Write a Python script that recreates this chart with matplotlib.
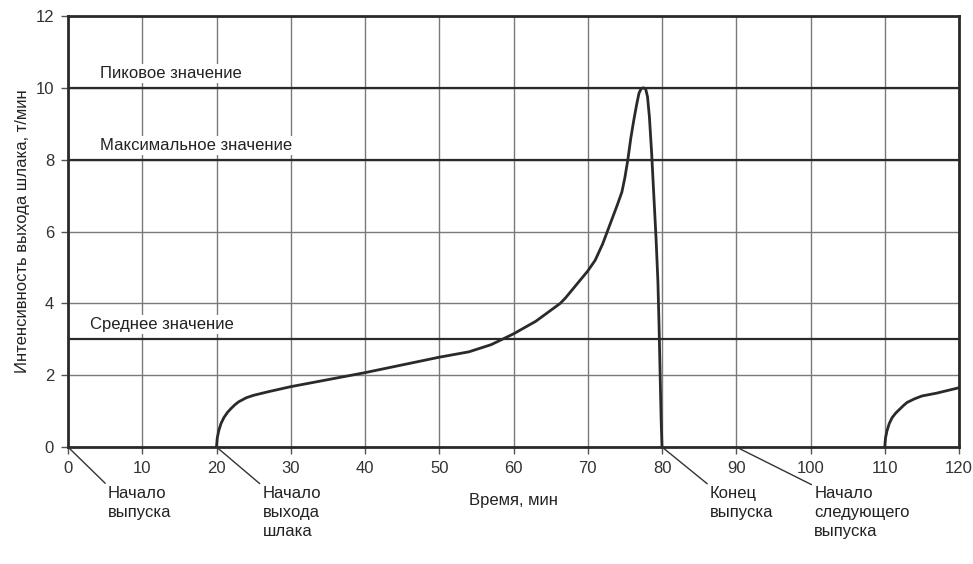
import numpy as np
import matplotlib
matplotlib.use("Agg")
import matplotlib.pyplot as plt

plt.rcParams['font.family'] = ['Liberation Sans', 'DejaVu Sans']

# первый выпуск шлака
x1 = [20, 20.1, 20.3, 20.6, 21, 21.5, 22, 22.5, 23, 24, 25, 27, 30, 40, 50, 54, 57, 60, 63,
      66.3, 67, 68, 69, 70, 71, 72, 73, 74, 74.6, 75, 75.4, 75.8, 76.2, 76.6, 76.9, 77.2,
      77.5, 77.8, 78.05, 78.3, 78.6, 78.9, 79.2, 79.45, 79.6, 79.75, 79.88, 80.0]
y1 = [0, 0.25, 0.45, 0.65, 0.82, 0.97, 1.08, 1.18, 1.26, 1.37, 1.44, 1.54, 1.68, 2.07, 2.5,
      2.65, 2.85, 3.15, 3.5, 4.0, 4.15, 4.4, 4.65, 4.9, 5.2, 5.65, 6.2, 6.75, 7.1, 7.5, 8.0,
      8.6, 9.1, 9.55, 9.85, 9.98, 10.0, 9.97, 9.75, 9.2, 8.2, 7.0, 5.8, 4.6, 3.4, 2.0, 0.8, 0]
# следующий выпуск
x2 = [110, 110.1, 110.3, 110.6, 111, 111.5, 112, 112.5, 113, 114, 115, 117, 120]
y2 = [0, 0.25, 0.45, 0.65, 0.82, 0.95, 1.05, 1.15, 1.24, 1.34, 1.42, 1.5, 1.65]

levels = [3, 8, 10]
level_names = ["Среднее значение", "Максимальное значение", "Пиковое значение"]
level_text_x = [3.0, 4.3, 4.3]

notes_x = [0, 20, 80, 90]
notes = ["Начало\nвыпуска", "Начало\nвыхода\nшлака", "Конец\nвыпуска",
         "Начало\nследующего\nвыпуска"]
notes_dx = [40, 46, 48, 78]

fs = 12
dark = '#2a2a2a'

fig = plt.figure(figsize=(9.73, 5.64), dpi=100)
ax = fig.add_axes([68/973, 117/564, (959-68)/973, (447-16)/564])

ax.set_xlim(0, 120)
ax.set_ylim(0, 12)
ax.set_xticks(range(0, 121, 10))
ax.set_yticks(range(0, 13, 2))
ax.grid(True, color='#7a7a7a', lw=1.0)
ax.set_axisbelow(True)

for lv in levels:
    ax.axhline(lv, color=dark, lw=1.6, zorder=1.5)
for lv, name, tx in zip(levels, level_names, level_text_x):
    ax.text(tx, lv + 0.4, name, fontsize=fs, color='#222222', va='center', ha='left',
            bbox=dict(facecolor='white', edgecolor='none', pad=1.5), zorder=2)

ax.plot(x1, y1, color=dark, lw=2.0, zorder=3, solid_joinstyle='round')
ax.plot(x2, y2, color=dark, lw=2.0, zorder=3, solid_joinstyle='round')

for s in ax.spines.values():
    s.set_linewidth(2.0)
    s.set_color(dark)
ax.tick_params(direction='out', length=5, width=1, color='#555555',
               labelsize=fs, labelcolor='#333333', pad=5)

ax.set_xlabel("Время, мин", fontsize=fs, color='#222222', labelpad=12)
ax.set_ylabel("Интенсивность выхода шлака, т/мин", fontsize=fs, color='#222222', labelpad=4)

for nx, txt, dx in zip(notes_x, notes, notes_dx):
    ax.annotate(txt, xy=(nx, 0), xytext=(dx, -39), textcoords='offset pixels',
                fontsize=fs, color='#222222', ha='left', va='top', linespacing=1.35,
                annotation_clip=False,
                arrowprops=dict(arrowstyle='-', color='#333333', lw=1.0,
                                shrinkA=0, shrinkB=0, relpos=(0, 1)))

fig.savefig("out.png", dpi=100)
